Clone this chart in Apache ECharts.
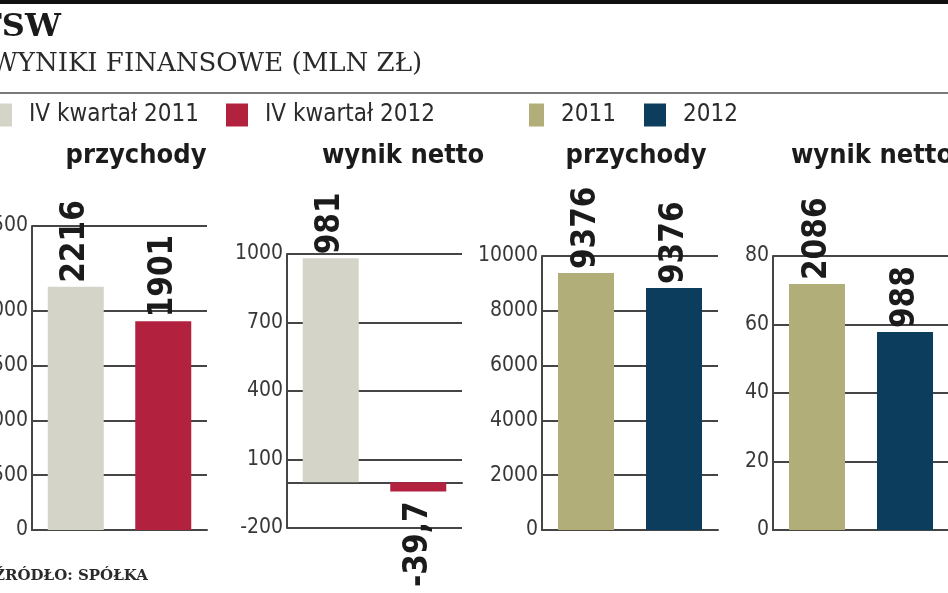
<!DOCTYPE html>
<html><head><meta charset="utf-8">
<script src="https://cdn.jsdelivr.net/npm/echarts@6/dist/echarts.min.js"></script>
<style>html,body{margin:0;padding:0;background:#fff}#c{width:948px;height:593px}</style>
</head><body><div id="c"></div>
<script>
// ---- data ----
const headerTitle = 'TSW';
const headerSubtitle = 'WYNIKI FINANSOWE (MLN ZŁ)';
const sourceText = 'ŹRÓDŁO: SPÓŁKA';
const seriesNames = ['IV kwartał 2011', 'IV kwartał 2012', '2011', '2012'];
const panelTitles = ['przychody', 'wynik netto', 'przychody', 'wynik netto'];
const categories = ['A', 'B'];

// panel 1: IV quarter revenue
const q4Revenue = [2216, 1901];
const q4RevenueLabels = ['2216', '1901'];
const q4RevenueTickValues = [0, 500, 1000, 1500, 2000, 2770];
const q4RevenueTickLabels = ['0', '500', '1000', '1500', '2000', '2500'];
// panel 2: IV quarter net result
const q4Net = [981, -39.7];
const q4NetLabels = ['981', '-39,7'];
// panel 3: yearly revenue
const yearRevenue = [9376, 8830];
const yearRevenueLabels = ['9376', '9376'];
// panel 4: yearly net result
const yearNet = [71.8, 57.8];
const yearNetLabels = ['2086', '988'];

// ---- styles ----
const FONT = "'Liberation Sans Narrow', 'DejaVu Sans Condensed', sans-serif";
const SERIF = "'DejaVu Serif', 'Liberation Serif', serif";
const colors = ['#d4d4c8', '#b2223f', '#b1ae79', '#0c3d5c'];
const lineColor = '#454545';

const grids = [
  { left: 32, top: 226, width: 175, height: 304 },
  { left: 287, top: 254, width: 175, height: 274 },
  { left: 542, top: 256, width: 176, height: 274 },
  { left: 773, top: 256, width: 176, height: 274 }
].map(g => Object.assign({ outerBoundsMode: 'none', containLabel: false }, g));

const axisLabelStyle = { fontFamily: FONT, fontSize: 21, color: '#383838', margin: 4, formatter: v => String(v) };

const yAxes = [
  { min: 0, max: q4RevenueTickValues[q4RevenueTickValues.length - 1],
    axisTick: { show: false, customValues: q4RevenueTickValues },
    axisLabel: Object.assign({}, axisLabelStyle, { customValues: q4RevenueTickValues,
      formatter: v => q4RevenueTickLabels[q4RevenueTickValues.indexOf(v)] }) },
  { min: -200, max: 1000, interval: 300, axisTick: { show: false }, axisLabel: axisLabelStyle },
  { min: 0, max: 10000, interval: 2000, axisTick: { show: false }, axisLabel: axisLabelStyle },
  { min: 0, max: 80, interval: 20, axisTick: { show: false }, axisLabel: axisLabelStyle }
].map((a, i) => Object.assign({
  type: 'value', gridIndex: i,
  axisLine: { show: true, lineStyle: { color: lineColor, width: 2 } },
  splitLine: { show: true, showMinLine: true, showMaxLine: true, lineStyle: { color: lineColor, width: 2 } }
}, a));

const xAxes = [0, 1, 2, 3].map(i => ({
  type: 'category', gridIndex: i, data: categories,
  axisLine: { show: true, onZero: true, lineStyle: { color: lineColor, width: 2 } },
  axisTick: { show: false }, axisLabel: { show: false }, splitLine: { show: false }
}));

const panels = [
  { values: q4Revenue, labels: q4RevenueLabels, names: [seriesNames[0], seriesNames[1]], colors: [colors[0], colors[1]] },
  { values: q4Net, labels: q4NetLabels, names: [seriesNames[0], seriesNames[1]], colors: [colors[0], colors[1]] },
  { values: yearRevenue, labels: yearRevenueLabels, names: [seriesNames[2], seriesNames[3]], colors: [colors[2], colors[3]] },
  { values: yearNet, labels: yearNetLabels, names: [seriesNames[2], seriesNames[3]], colors: [colors[2], colors[3]] }
];

const series = [];
panels.forEach((p, pi) => {
  p.values.forEach((v, k) => {
    const data = categories.map((c, j) => j === k ? v : '-');
    const neg = v < 0;
    series.push({
      type: 'bar', name: p.names[k], xAxisIndex: pi, yAxisIndex: pi,
      data, barWidth: 56, barGap: '-100%', z: 3,
      itemStyle: { color: p.colors[k] },
      emphasis: { disabled: true },
      label: {
        show: true, position: neg ? 'bottom' : 'top', rotate: 90,
        align: neg ? 'right' : 'left', verticalAlign: 'middle', distance: 7,
        offset: [-3, 0],
        formatter: () => p.labels[k],
        fontFamily: FONT, fontSize: 33, fontWeight: 'bold', color: '#1b1b1b'
      }
    });
  });
});

const legendPos = [
  { left: -10, w: 22 }, { left: 226, w: 22 }, { left: 529, w: 15 }, { left: 644, w: 22 }
];
const legends = seriesNames.map((n, i) => ({
  data: [n], left: legendPos[i].left, top: 103, padding: 0, selectedMode: false,
  itemWidth: legendPos[i].w, itemHeight: 23, icon: 'rect',
  textStyle: { fontFamily: FONT, fontSize: 24, color: '#2b2b2b', padding: [0, 0, 0, 12], lineHeight: 24 }
}));

const titleCenters = [136, 403, 636, 872];
const titles = panelTitles.map((t, i) => ({
  text: t, left: titleCenters[i], top: 142, textAlign: 'center', padding: 0,
  textStyle: { fontFamily: FONT, fontSize: 27, fontWeight: 'bold', color: '#1b1b1b' }
}));

const chart = echarts.init(document.getElementById('c'), null, { renderer: 'canvas' });
chart.setOption({
  animation: false,
  backgroundColor: '#fff',
  title: titles,
  legend: legends,
  grid: grids,
  xAxis: xAxes,
  yAxis: yAxes,
  series,
  graphic: [
    { type: 'rect', shape: { x: 0, y: 0, width: 948, height: 4 }, style: { fill: '#111' } },
    { type: 'text', left: -22, top: 12, style: { text: headerTitle, font: "bold 32px " + SERIF, fill: '#1a1a1a' } },
    { type: 'text', left: -9, top: 51, style: { text: headerSubtitle, font: "26px " + SERIF, fill: '#2a2a2a' } },
    { type: 'line', shape: { x1: 0, y1: 93, x2: 948, y2: 93 }, style: { stroke: '#7a7a7a', lineWidth: 2 } },
    { type: 'text', left: -6, top: 569, style: { text: sourceText, font: "bold 15px " + SERIF, fill: '#2a2a2a' } }
  ]
});
</script></body></html>
